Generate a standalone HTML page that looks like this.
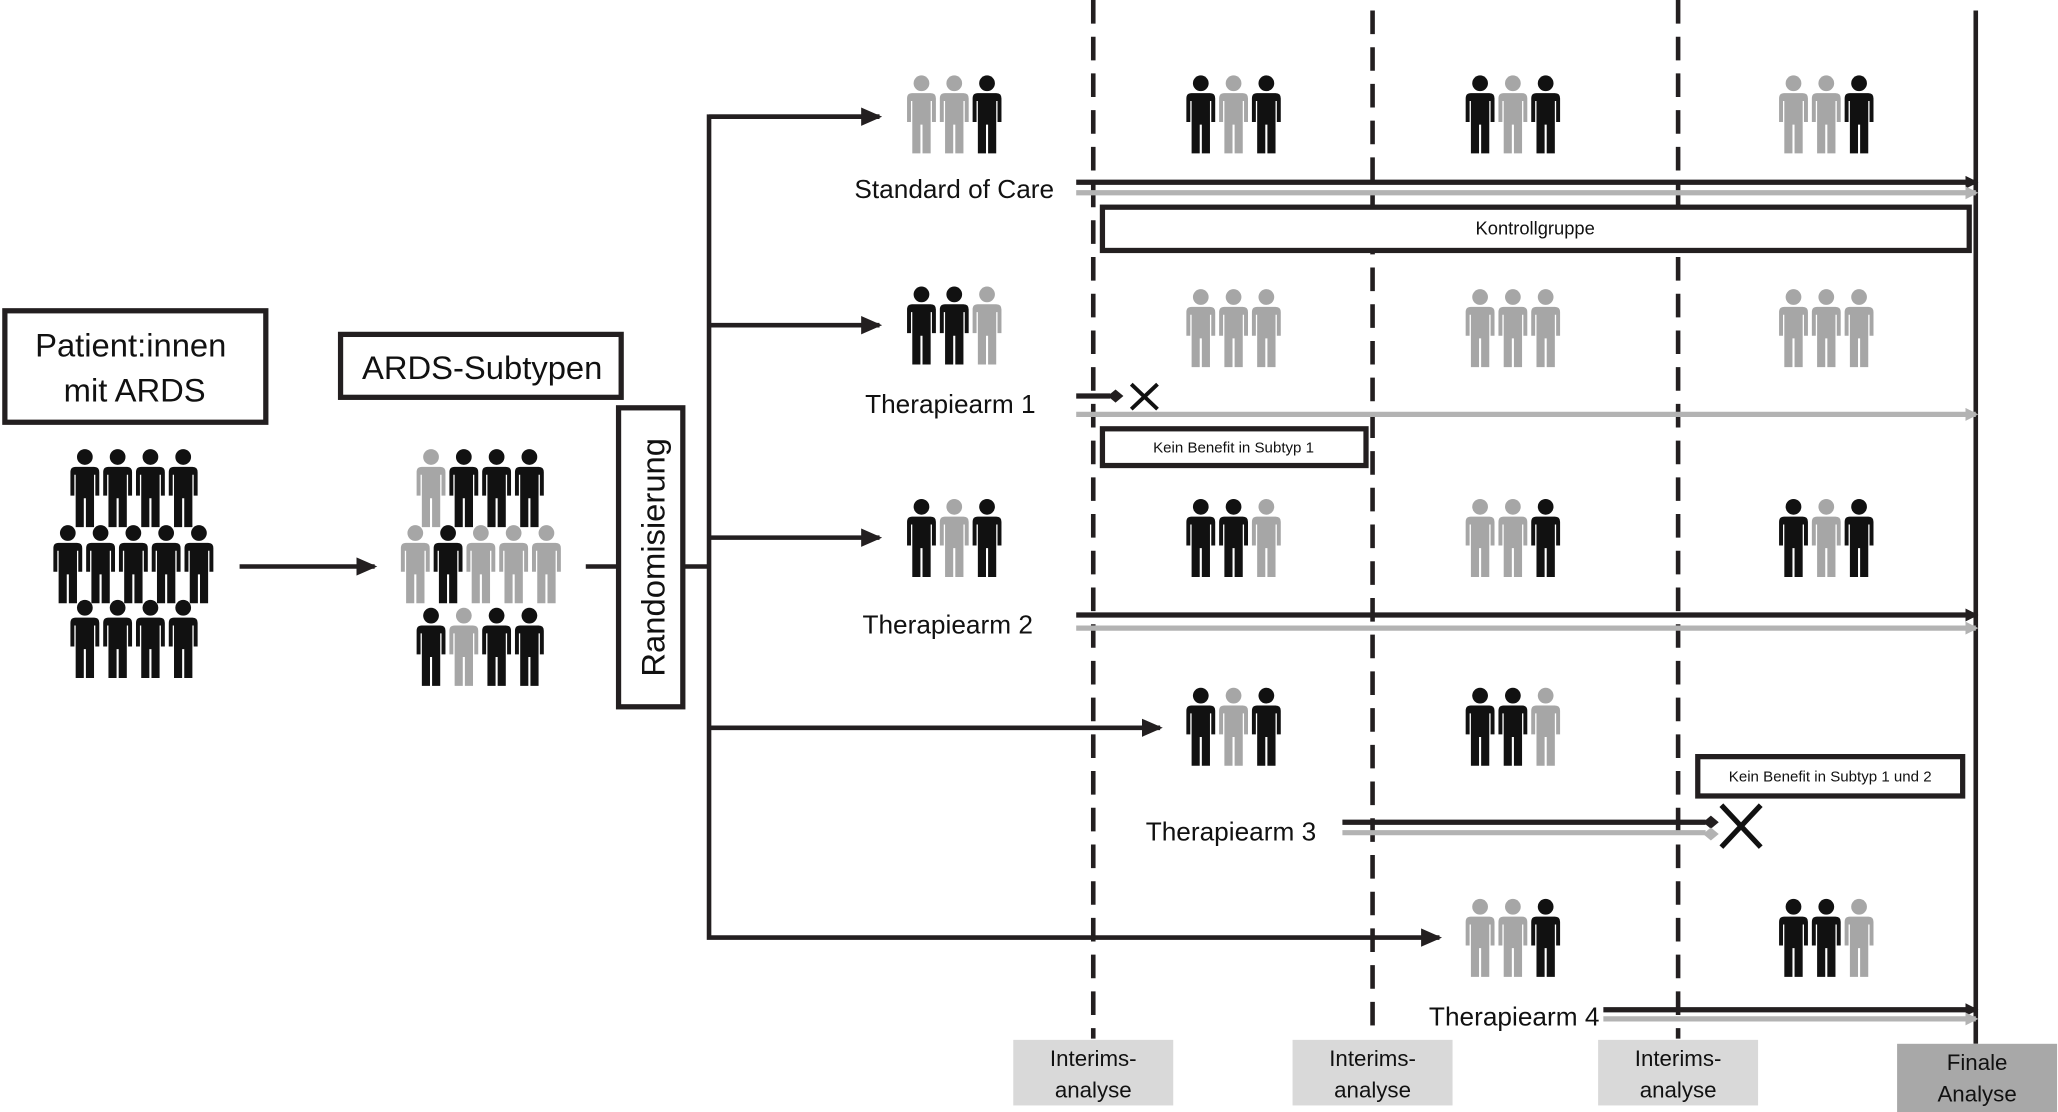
<!DOCTYPE html>
<html><head><meta charset="utf-8"><style>
html,body{margin:0;padding:0;background:#fff;}
svg{display:block;}
text{font-family:"Liberation Sans",sans-serif;fill:#111;}
</style></head><body>
<svg width="2058" height="1112" viewBox="0 0 1568 848" xmlns="http://www.w3.org/2000/svg">
<defs>
<g id="p">
<circle cx="12" cy="6.5" r="6"/>
<path d="M5,14 H19 Q23,14 23,18 V36 H20 V20 H19 V60 H12.8 V38 H11.2 V60 H5 V20 H4 V36 H1 V18 Q1,14 5,14 Z"/>
</g>
<marker id="ab" markerWidth="10" markerHeight="10" refX="8" refY="5" orient="auto" markerUnits="userSpaceOnUse"><path d="M0,0 L10,5 L0,10 Z" fill="#231f20"/></marker>
<marker id="ag" markerWidth="10" markerHeight="10" refX="8" refY="5" orient="auto" markerUnits="userSpaceOnUse"><path d="M0,0 L10,5 L0,10 Z" fill="#b3b3b3"/></marker>
<marker id="ah" markerWidth="16" markerHeight="14" refX="14" refY="7" orient="auto" markerUnits="userSpaceOnUse"><path d="M0,0 L16,7 L0,14 Z" fill="#231f20"/></marker>
</defs>
<style>.b{fill:#111}.g{fill:#a6a6a6}</style>

<!-- dashed / final lines -->
<g stroke="#231f20" stroke-width="3.5" stroke-dasharray="18,10">
<line x1="833" y1="0" x2="833" y2="792"/>
<line x1="1046" y1="8" x2="1046" y2="792"/>
<line x1="1279" y1="0" x2="1279" y2="792"/>
</g>
<line x1="1506" y1="8" x2="1506" y2="796" stroke="#231f20" stroke-width="3.5"/>

<!-- left boxes -->
<rect x="3" y="237" width="199" height="85" fill="#fff" stroke="#231f20" stroke-width="4"/>
<text x="99" y="272" font-size="25" text-anchor="middle">Patient:innen</text>
<text x="102" y="306" font-size="25" text-anchor="middle">mit ARDS</text>
<rect x="259" y="255" width="214" height="48" fill="#fff" stroke="#231f20" stroke-width="4"/>
<text x="367" y="289" font-size="25" text-anchor="middle">ARDS-Subtypen</text>

<!-- group 1 -->
<g class="b">
<use href="#p" x="52" y="342"/><use href="#p" x="77" y="342"/><use href="#p" x="102" y="342"/><use href="#p" x="127" y="342"/>
<use href="#p" x="39" y="400"/><use href="#p" x="64" y="400"/><use href="#p" x="89" y="400"/><use href="#p" x="114" y="400"/><use href="#p" x="139" y="400"/>
<use href="#p" x="52" y="457"/><use href="#p" x="77" y="457"/><use href="#p" x="102" y="457"/><use href="#p" x="127" y="457"/>
</g>
<!-- group 2 -->
<use href="#p" x="316" y="342" class="g"/><use href="#p" x="341" y="342" class="b"/><use href="#p" x="366" y="342" class="b"/><use href="#p" x="391" y="342" class="b"/>
<use href="#p" x="304" y="400" class="g"/><use href="#p" x="329" y="400" class="b"/><use href="#p" x="354" y="400" class="g"/><use href="#p" x="379" y="400" class="g"/><use href="#p" x="404" y="400" class="g"/>
<use href="#p" x="316" y="463" class="b"/><use href="#p" x="341" y="463" class="g"/><use href="#p" x="366" y="463" class="b"/><use href="#p" x="391" y="463" class="b"/>

<!-- connectors left -->
<line x1="182" y1="432" x2="285" y2="432" stroke="#231f20" stroke-width="3.5" marker-end="url(#ah)"/>
<line x1="446" y1="432" x2="472" y2="432" stroke="#231f20" stroke-width="3.5"/>
<line x1="520" y1="432" x2="540" y2="432" stroke="#231f20" stroke-width="3.5"/>
<rect x="471" y="311" width="49" height="228" fill="#fff" stroke="#231f20" stroke-width="4"/>
<text transform="translate(506,425) rotate(-90)" font-size="25" text-anchor="middle">Randomisierung</text>

<g stroke="#231f20" stroke-width="3.5" fill="none">
<polyline points="670,89 540,89 540,715 1097,715" marker-end="url(#ah)"/>
<line x1="540" y1="89" x2="670" y2="89" marker-end="url(#ah)"/>
<line x1="540" y1="248" x2="670" y2="248" marker-end="url(#ah)"/>
<line x1="540" y1="410" x2="670" y2="410" marker-end="url(#ah)"/>
<line x1="540" y1="555" x2="884" y2="555" marker-end="url(#ah)"/>
</g>

<!-- triples -->
<g>
<use href="#p" x="690" y="57" class="g"/><use href="#p" x="715" y="57" class="g"/><use href="#p" x="740" y="57" class="b"/>
<use href="#p" x="903" y="57" class="b"/><use href="#p" x="928" y="57" class="g"/><use href="#p" x="953" y="57" class="b"/>
<use href="#p" x="1116" y="57" class="b"/><use href="#p" x="1141" y="57" class="g"/><use href="#p" x="1166" y="57" class="b"/>
<use href="#p" x="1355" y="57" class="g"/><use href="#p" x="1380" y="57" class="g"/><use href="#p" x="1405" y="57" class="b"/>

<use href="#p" x="690" y="218" class="b"/><use href="#p" x="715" y="218" class="b"/><use href="#p" x="740" y="218" class="g"/>
<use href="#p" x="903" y="220" class="g"/><use href="#p" x="928" y="220" class="g"/><use href="#p" x="953" y="220" class="g"/>
<use href="#p" x="1116" y="220" class="g"/><use href="#p" x="1141" y="220" class="g"/><use href="#p" x="1166" y="220" class="g"/>
<use href="#p" x="1355" y="220" class="g"/><use href="#p" x="1380" y="220" class="g"/><use href="#p" x="1405" y="220" class="g"/>

<use href="#p" x="690" y="380" class="b"/><use href="#p" x="715" y="380" class="g"/><use href="#p" x="740" y="380" class="b"/>
<use href="#p" x="903" y="380" class="b"/><use href="#p" x="928" y="380" class="b"/><use href="#p" x="953" y="380" class="g"/>
<use href="#p" x="1116" y="380" class="g"/><use href="#p" x="1141" y="380" class="g"/><use href="#p" x="1166" y="380" class="b"/>
<use href="#p" x="1355" y="380" class="b"/><use href="#p" x="1380" y="380" class="g"/><use href="#p" x="1405" y="380" class="b"/>

<use href="#p" x="903" y="524" class="b"/><use href="#p" x="928" y="524" class="g"/><use href="#p" x="953" y="524" class="b"/>
<use href="#p" x="1116" y="524" class="b"/><use href="#p" x="1141" y="524" class="b"/><use href="#p" x="1166" y="524" class="g"/>

<use href="#p" x="1116" y="685" class="g"/><use href="#p" x="1141" y="685" class="g"/><use href="#p" x="1166" y="685" class="b"/>
<use href="#p" x="1355" y="685" class="b"/><use href="#p" x="1380" y="685" class="b"/><use href="#p" x="1405" y="685" class="g"/>
</g>

<!-- arm labels -->
<g font-size="20">
<text x="727" y="151" text-anchor="middle">Standard of Care</text>
<text x="724" y="315" text-anchor="middle">Therapiearm 1</text>
<text x="722" y="483" text-anchor="middle">Therapiearm 2</text>
<text x="938" y="641" text-anchor="middle">Therapiearm 3</text>
<text x="1154" y="782" text-anchor="middle">Therapiearm 4</text>
</g>

<!-- timeline arrows -->
<g stroke-width="4">
<line x1="820" y1="139" x2="1506" y2="139" stroke="#231f20" marker-end="url(#ab)"/>
<line x1="820" y1="147" x2="1506" y2="147" stroke="#b3b3b3" marker-end="url(#ag)"/>
<line x1="820" y1="302" x2="846" y2="302" stroke="#231f20"/>
<line x1="820" y1="316" x2="1506" y2="316" stroke="#b3b3b3" marker-end="url(#ag)"/>
<line x1="820" y1="469" x2="1506" y2="469" stroke="#231f20" marker-end="url(#ab)"/>
<line x1="820" y1="479" x2="1506" y2="479" stroke="#b3b3b3" marker-end="url(#ag)"/>
<line x1="1023" y1="627" x2="1300" y2="627" stroke="#231f20"/>
<line x1="1023" y1="635" x2="1300" y2="635" stroke="#b3b3b3"/>
<line x1="1222" y1="770" x2="1506" y2="770" stroke="#231f20" marker-end="url(#ab)"/>
<line x1="1222" y1="777" x2="1506" y2="777" stroke="#b3b3b3" marker-end="url(#ag)"/>
</g>
<path d="M844,302 L850,297 L856,302 L850,307 Z" fill="#231f20"/>
<path d="M1298,627 L1304,622 L1310,627 L1304,632 Z" fill="#231f20"/>
<path d="M1298,636 L1304,631 L1310,636 L1304,641 Z" fill="#b3b3b3"/>
<g stroke="#111" stroke-width="3">
<line x1="862" y1="293" x2="882" y2="312"/><line x1="882" y1="293" x2="862" y2="312"/>
</g>
<g stroke="#111" stroke-width="4">
<line x1="1312" y1="614" x2="1342" y2="646"/><line x1="1342" y1="614" x2="1312" y2="646"/>
</g>

<!-- notes -->
<rect x="840" y="158" width="661" height="33" fill="#fff" stroke="#231f20" stroke-width="4"/>
<text x="1170" y="179" font-size="14" text-anchor="middle">Kontrollgruppe</text>
<rect x="840" y="327" width="201" height="28" fill="#fff" stroke="#231f20" stroke-width="4"/>
<text x="940" y="345" font-size="11.5" text-anchor="middle">Kein Benefit in Subtyp 1</text>
<rect x="1294" y="577" width="202" height="30" fill="#fff" stroke="#231f20" stroke-width="4"/>
<text x="1395" y="596" font-size="11.5" text-anchor="middle">Kein Benefit in Subtyp 1 und 2</text>

<!-- bottom labels -->
<g font-size="17" text-anchor="middle">
<rect x="772" y="793" width="122" height="50" fill="#d9d9d9"/>
<text x="833" y="813">Interims-</text><text x="833" y="837">analyse</text>
<rect x="985" y="793" width="122" height="50" fill="#d9d9d9"/>
<text x="1046" y="813">Interims-</text><text x="1046" y="837">analyse</text>
<rect x="1218" y="793" width="122" height="50" fill="#d9d9d9"/>
<text x="1279" y="813">Interims-</text><text x="1279" y="837">analyse</text>
<rect x="1446" y="796" width="122" height="52" fill="#a8a8a8"/>
<text x="1507" y="816">Finale</text><text x="1507" y="840">Analyse</text>
</g>
</svg>
</body></html>
